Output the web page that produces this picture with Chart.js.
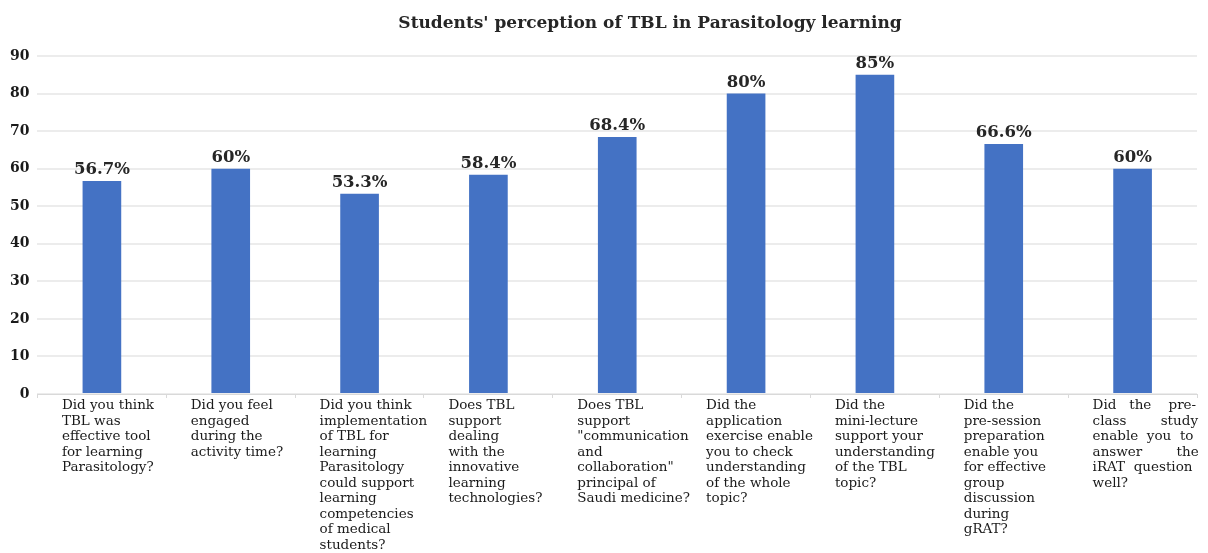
<!DOCTYPE html>
<html>
<head>
<meta charset="utf-8">
<title>TBL perception</title>
<script src="https://cdn.jsdelivr.net/npm/chart.js@4.4.1/dist/chart.umd.min.js"></script>
<style>
  body { margin: 0; background: #fff; }
</style>
</head>
<body>
<canvas id="grafico" width="1208" height="553"></canvas>
<script>
// Dados do gráfico //
var titulo = "Students' perception of TBL in Parasitology learning";
var perguntas = [
    ["Did you think", "TBL was", "effective tool", "for learning", "Parasitology?"],
    ["Did you feel", "engaged", "during the", "activity time?"],
    ["Did you think", "implementation", "of TBL for", "learning", "Parasitology", "could support", "learning", "competencies", "of medical", "students?"],
    ["Does TBL", "support", "dealing", "with the", "innovative", "learning", "technologies?"],
    ["Does TBL", "support", "\"communication", "and", "collaboration\"", "principal of", "Saudi medicine?"],
    ["Did the", "application", "exercise enable", "you to check", "understanding", "of the whole", "topic?"],
    ["Did the", "mini-lecture", "support your", "understanding", "of the TBL", "topic?"],
    ["Did the", "pre-session", "preparation", "enable you", "for effective", "group", "discussion", "during", "gRAT?"],
    ["Did   the    pre-", "class        study", "enable  you  to", "answer        the", "iRAT  question", "well?"]
];
var percentuais = [56.7, 60, 53.3, 58.4, 68.4, 80, 85, 66.6, 60];
var escalaY = [0, 10, 20, 30, 40, 50, 60, 70, 80, 90];
// -------------------------------- //

// Plugin: rótulos em cima das barras //
const rotulosBarras = {
    id: 'rotulosBarras',
    afterDatasetsDraw(chart) {
        const ctx = chart.ctx;
        const meta = chart.getDatasetMeta(0);
        ctx.save();
        ctx.font = 'bold 16.5px "DejaVu Serif"';
        ctx.fillStyle = '#262626';
        ctx.textAlign = 'center';
        ctx.textBaseline = 'bottom';
        meta.data.forEach(function (barra, i) {
            ctx.fillText(percentuais[i] + '%', barra.x, barra.y - 3);
        });
        ctx.restore();
    }
};
// Plugin: título (um pouco deslocado para a direita como no original) //
const tituloPlugin = {
    id: 'tituloPlugin',
    afterDraw(chart) {
        const ctx = chart.ctx;
        ctx.save();
        ctx.font = 'bold 17px "DejaVu Serif"';
        ctx.fillStyle = '#262626';
        ctx.textAlign = 'center';
        ctx.textBaseline = 'middle';
        ctx.fillText(titulo, 650, 24);
        ctx.restore();
    }
};
// -------------------------------- //

const data1 = {
    labels: perguntas,
    datasets: [{
        label: 'Percentual',
        data: percentuais,
        backgroundColor: '#4472c4',
        borderWidth: 0,
        barPercentage: 0.3,
        categoryPercentage: 1
    }]
};

const config1 = {
    type: 'bar',
    data: data1,
    options: {
        responsive: false,
        animation: false,
        layout: {
            padding: { top: 56, left: 2, right: 11, bottom: 0 }
        },
        plugins: {
            legend: { display: false },
            title: { display: false },
            tooltip: { enabled: false }
        },
        scales: {
            x: {
                // os rótulos ficam alinhados à esquerda, sem reservar espaço extra nas bordas
                afterFit: function (eixo) {
                    eixo.paddingLeft = 0;
                    eixo.paddingRight = 0;
                },
                grid: {
                    offset: true,
                    drawOnChartArea: false,
                    drawTicks: true,
                    tickLength: 4,
                    color: '#d9d9d9'
                },
                border: { color: '#d9d9d9', width: 1 },
                ticks: {
                    autoSkip: false,
                    maxRotation: 0,
                    minRotation: 0,
                    align: 'start',
                    labelOffset: -40,
                    padding: 0,
                    color: '#1a1a1a',
                    font: { family: '"DejaVu Serif"', size: 13.5, lineHeight: '15.5px' }
                }
            },
            y: {
                min: escalaY[0],
                max: escalaY[escalaY.length - 1],
                afterBuildTicks: function (eixo) {
                    eixo.ticks = escalaY.map(function (v) { return { value: v }; });
                },
                grid: {
                    color: '#ececec',
                    lineWidth: 2,
                    drawTicks: false
                },
                border: { display: false },
                ticks: {
                    padding: 8,
                    color: '#1a1a1a',
                    font: { family: '"DejaVu Serif"', size: 14, weight: 'bold' }
                }
            }
        }
    },
    plugins: [rotulosBarras, tituloPlugin]
};

var myChart = new Chart(document.getElementById('grafico'), config1);
</script>
</body>
</html>
